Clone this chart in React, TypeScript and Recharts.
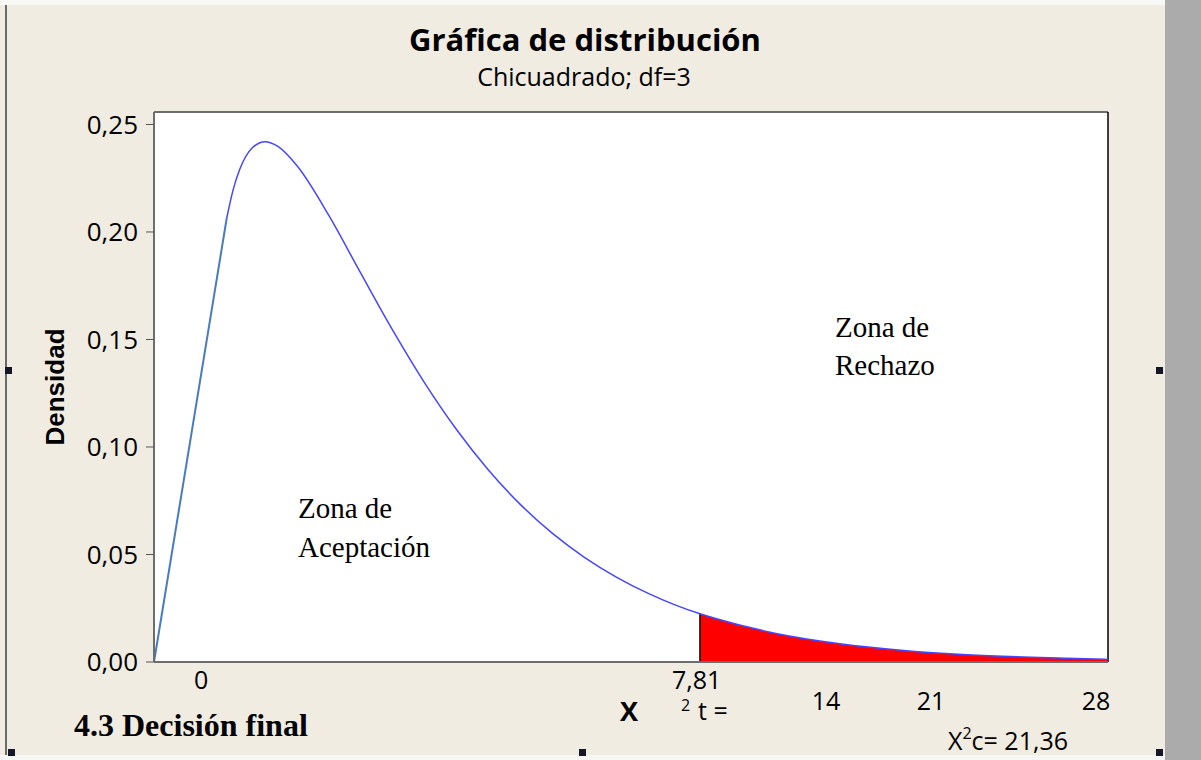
import type { FC } from 'react';
import {
  ComposedChart,
  Line,
  Area,
  XAxis,
  YAxis,
  CartesianGrid,
  ReferenceLine,
} from 'recharts';

// Chi-square df=3 density
const xValues = [-0.74, 0.4, 0.5, 0.6, 0.8, 1.0, 1.2, 1.5, 2, 2.5, 3, 3.5, 4, 4.5, 5, 5.5, 6, 6.5, 7, 7.81, 8, 9, 10, 11, 12, 13, 14, 14.2];
const startSegment = [0, 0.2066, null, null, null, null, null, null, null, null, null, null, null, null, null, null, null, null, null, null, null, null, null, null, null, null, null, null];
const densityValues = [null, 0.2066, 0.2197, 0.2289, 0.2392, 0.242, 0.2398, 0.2308, 0.2076, 0.1807, 0.1542, 0.1297, 0.108, 0.0892, 0.0732, 0.0598, 0.0487, 0.0395, 0.0319, 0.0224, 0.0207, 0.0133, 0.0085, 0.0054, 0.0034, 0.0022, 0.0014, 0.0012];
const criticalValue = 7.81;
const criticalDensity = 0.0224;
const yTicks = [0, 0.05, 0.1, 0.15, 0.2, 0.25];
const xTicks = [0];
const overlayXLabels = ['14', '21', '28'];

const xMin = -0.74;
const xMax = 14.2;
const yMax = 0.2558;

const rows = xValues.map((x, i) => ({
  x,
  seg: startSegment[i],
  dens: densityValues[i],
  tail: x >= criticalValue ? densityValues[i] : null,
}));

const sans = '"Open Sans", "Noto Sans", sans-serif';
const serif = '"Liberation Serif", "Times New Roman", serif';

const Handle: FC<{ x: number; y: number }> = ({ x, y }) => (
  <div style={{ position: 'absolute', left: x, top: y, width: 7, height: 7, background: '#16162a' }} />
);

const App: FC = () => {
  return (
    <div style={{ position: 'absolute', left: 0, top: 0, width: 1201, height: 760, background: '#f0ece2', overflow: 'hidden' }}>
      <div style={{ position: 'absolute', left: 0, top: 0, width: 1201, height: 5, background: '#f8f8f6' }} />
      <div style={{ position: 'absolute', left: 0, top: 755, width: 1201, height: 5, background: '#f6f6f4' }} />
      <div style={{ position: 'absolute', left: 1165, top: 0, width: 36, height: 760, background: '#ababab' }} />
      <div style={{ position: 'absolute', left: 5, top: 5, width: 2, height: 750, background: '#6a6a6a' }} />
      <ComposedChart
        width={1201}
        height={760}
        data={rows}
        margin={{ top: 112, right: 93, left: 0, bottom: 68 }}
        style={{ position: 'absolute', left: 0, top: 0 }}
      >
        <CartesianGrid fill="#ffffff" horizontal={false} vertical={false} />
        <XAxis
          type="number"
          dataKey="x"
          domain={[xMin, xMax]}
          ticks={xTicks}
          allowDataOverflow
          height={30}
          tickLine={false}
          tickSize={0}
          tickMargin={9}
          axisLine={{ stroke: '#6d6d6d', strokeWidth: 2 }}
          tick={{ fontSize: 25, fill: '#000', fontFamily: sans }}
        />
        <YAxis
          type="number"
          domain={[0, yMax]}
          ticks={yTicks}
          allowDataOverflow
          width={154}
          tickSize={8}
          tickMargin={8}
          tickLine={{ stroke: '#555' }}
          axisLine={{ stroke: '#6d6d6d', strokeWidth: 2 }}
          tick={{ fontSize: 26, fill: '#000', fontFamily: sans }}
          tickFormatter={(v: number) => v.toFixed(2).replace('.', ',')}
        />
        <ReferenceLine y={yMax} stroke="#6d6d6d" strokeWidth={2} ifOverflow="extendDomain" />
        <ReferenceLine x={xMax} stroke="#000" strokeWidth={1.5} ifOverflow="extendDomain" />
        <Area
          type="monotone"
          dataKey="tail"
          stroke="none"
          fill="#ff0000"
          fillOpacity={1}
          isAnimationActive={false}
          dot={false}
          activeDot={false}
        />
        <ReferenceLine
          segment={[{ x: criticalValue, y: 0 }, { x: criticalValue, y: criticalDensity }]}
          stroke="#000"
          strokeWidth={1.5}
        />
        <Line
          type="linear"
          dataKey="seg"
          stroke="#4a7bbf"
          strokeWidth={2}
          dot={false}
          activeDot={false}
          isAnimationActive={false}
        />
        <Line
          type="monotone"
          dataKey="dens"
          stroke="#4646ff"
          strokeWidth={1.5}
          dot={false}
          activeDot={false}
          isAnimationActive={false}
        />
      </ComposedChart>
      <svg width={1201} height={760} style={{ position: 'absolute', left: 0, top: 0, pointerEvents: 'none' }}>
        <text x={585} y={51} textAnchor="middle" fontFamily={sans} fontWeight="bold" fontSize={31}>
          Gráfica de distribución
        </text>
        <text x={584} y={86} textAnchor="middle" fontFamily={sans} fontSize={25}>
          Chicuadrado; df=3
        </text>
        <text
          x={64}
          y={387}
          textAnchor="middle"
          fontFamily='"Liberation Sans", Arial, sans-serif'
          fontWeight="bold"
          fontSize={26}
          transform="rotate(-90 64 387)"
        >
          Densidad
        </text>
        <text x={298} y={518} fontFamily={serif} fontSize={29}>Zona de</text>
        <text x={298} y={557} fontFamily={serif} fontSize={29}>Aceptación</text>
        <text x={835} y={337} fontFamily={serif} fontSize={29}>Zona de</text>
        <text x={835} y={375} fontFamily={serif} fontSize={29}>Rechazo</text>
        <text x={672} y={689} fontFamily={sans} fontSize={25}>7,81</text>
        <text x={681} y={711} fontFamily={sans} fontSize={16}>2</text>
        <text x={698} y={720} fontFamily={sans} fontSize={25}>t =</text>
        <text x={629} y={721} textAnchor="middle" fontFamily={sans} fontWeight="bold" fontSize={27}>X</text>
        <text x={826} y={710} textAnchor="middle" fontFamily={sans} fontSize={25}>{overlayXLabels[0]}</text>
        <text x={931} y={710} textAnchor="middle" fontFamily={sans} fontSize={25}>{overlayXLabels[1]}</text>
        <text x={1096} y={710} textAnchor="middle" fontFamily={sans} fontSize={25}>{overlayXLabels[2]}</text>
        <text x={948} y={750} fontFamily={sans} fontSize={25}>
          X<tspan fontSize={16} dy={-11}>2</tspan><tspan dy={11}>c= 21,36</tspan>
        </text>
        <text x={74} y={736} fontFamily={serif} fontWeight="bold" fontSize={32}>4.3 Decisión final</text>
      </svg>
      <Handle x={5} y={367} />
      <Handle x={1156} y={367} />
      <Handle x={579} y={749} />
      <Handle x={8} y={749} />
      <Handle x={1156} y={749} />
    </div>
  );
};

export default App;
